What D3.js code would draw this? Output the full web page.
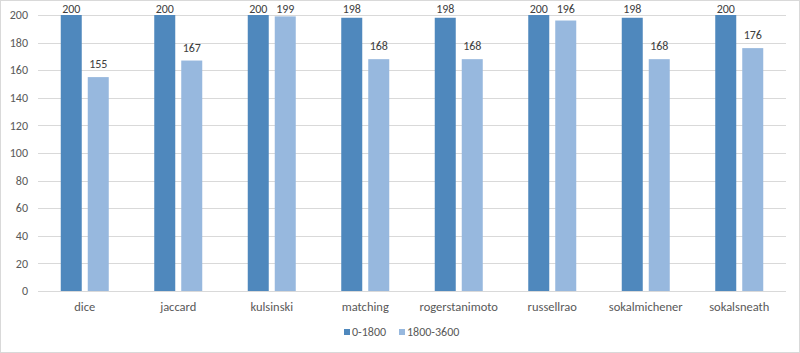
<!DOCTYPE html>
<html><head><meta charset="utf-8">
<script src="https://cdn.jsdelivr.net/npm/d3@7"></script>
<style>body{margin:0;background:#fff;font-family:Carlito,Calibri,"Liberation Sans",sans-serif;}</style>
</head><body><svg id="c" width="800" height="353"></svg>
<script>
const categories = ["dice","jaccard","kulsinski","matching","rogerstanimoto","russellrao","sokalmichener","sokalsneath"];
const seriesNames = ["0-1800","1800-3600"];
const series1 = [200,200,200,198,198,200,198,200];
const series2 = [155,167,199,168,168,196,168,176];
const yTicks = [0,20,40,60,80,100,120,140,160,180,200];
const colors = ["#4f88bd","#97b8de"];

const svg = d3.select("#c");
svg.append("rect").attr("x",0.5).attr("y",0.5).attr("width",799).attr("height",352).attr("fill","#fff").attr("stroke","#d9d9d9");
const L=38,R=786,T=15,B=291;
const x = d3.scaleBand().domain(categories).range([L,R]).paddingInner(0).paddingOuter(0);
const y = d3.scaleLinear().domain([0,200]).range([B,T]);
const bw=21, gap=6, off=(x.bandwidth()-(2*bw+gap))/2;

const gy = svg.append("g");
yTicks.forEach(t=>{
  gy.append("line").attr("x1",L).attr("x2",R).attr("y1",Math.round(y(t))+0.5).attr("y2",Math.round(y(t))+0.5).attr("stroke","#d9d9d9").attr("stroke-width",1);
  gy.append("text").attr("x",28).attr("y",y(t)).attr("dy","0.35em").attr("text-anchor","end").attr("font-size",12).attr("fill","#595959").text(t);
});

const data = [series1,series2];
data.forEach((s,si)=>{
  svg.append("g").selectAll("rect").data(categories).join("rect")
    .attr("x",(d,i)=>x(d)+off+si*(bw+gap))
    .attr("y",(d,i)=>y(s[i]))
    .attr("width",bw)
    .attr("height",(d,i)=>y(0)-y(s[i]))
    .attr("fill",colors[si]);
  svg.append("g").selectAll("text").data(categories).join("text")
    .attr("x",(d,i)=>x(d)+off+si*(bw+gap)+bw/2)
    .attr("y",(d,i)=>Math.max(y(s[i])-9, 13))
    .attr("text-anchor","middle").attr("font-size",12).attr("fill","#404040")
    .text((d,i)=>s[i]);
});

svg.append("g").selectAll("text").data(categories).join("text")
  .attr("x",d=>x(d)+x.bandwidth()/2).attr("y",311)
  .attr("text-anchor","middle").attr("font-size",12.5).attr("fill","#595959").text(d=>d);

const lg = svg.append("g");
const lx=[344,399];
seriesNames.forEach((n,i)=>{
  lg.append("rect").attr("x",lx[i]).attr("y",329).attr("width",6).attr("height",6).attr("fill",colors[i]);
  lg.append("text").attr("x",lx[i]+8).attr("y",336).attr("font-size",12).attr("fill","#595959").text(n);
});
</script></body></html>
